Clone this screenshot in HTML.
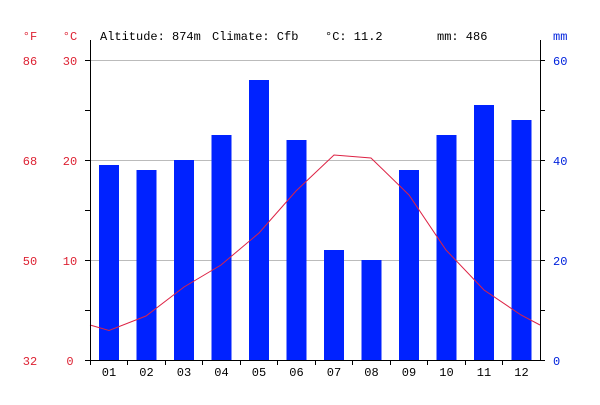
<!DOCTYPE html><html><head><style>body{margin:0;background:#fff}</style></head><body>
<svg width="600" height="400" xmlns="http://www.w3.org/2000/svg" font-family="Liberation Mono, DejaVu Sans Mono, monospace" font-size="12">
<g stroke="#bbb" stroke-width="1">
<line x1="90" y1="60.5" x2="540" y2="60.5"/><line x1="90" y1="160.5" x2="540" y2="160.5"/><line x1="90" y1="260.5" x2="540" y2="260.5"/>
</g>
<g fill="#0022ff">
<rect x="99" y="165" width="20" height="195"/>
<rect x="136.5" y="170" width="20" height="190"/>
<rect x="174" y="160" width="20" height="200"/>
<rect x="211.5" y="135" width="20" height="225"/>
<rect x="249" y="80" width="20" height="280"/>
<rect x="286.5" y="140" width="20" height="220"/>
<rect x="324" y="250" width="20" height="110"/>
<rect x="361.5" y="260" width="20" height="100"/>
<rect x="399" y="170" width="20" height="190"/>
<rect x="436.5" y="135" width="20" height="225"/>
<rect x="474" y="105" width="20" height="255"/>
<rect x="511.5" y="120" width="20" height="240"/>
</g>
<polyline fill="none" stroke="#dd2244" stroke-width="1" points="90,325 109,330.5 146,316 184,287 221,265 259,233 296,191 334,155 371,158 409,195 446,250 484,290 521,315 540,325"/>
<g stroke="#000" stroke-width="1">
<line x1="90.5" y1="40" x2="90.5" y2="360"/><line x1="540.5" y1="40" x2="540.5" y2="360"/>
<line x1="90" y1="360.5" x2="541" y2="360.5"/>
<line x1="85" y1="60.5" x2="90" y2="60.5"/><line x1="85" y1="110.5" x2="90" y2="110.5"/><line x1="85" y1="160.5" x2="90" y2="160.5"/><line x1="85" y1="210.5" x2="90" y2="210.5"/><line x1="85" y1="260.5" x2="90" y2="260.5"/><line x1="85" y1="310.5" x2="90" y2="310.5"/><line x1="85" y1="360.5" x2="90" y2="360.5"/>
<line x1="540" y1="60.5" x2="545" y2="60.5"/><line x1="540" y1="110.5" x2="545" y2="110.5"/><line x1="540" y1="160.5" x2="545" y2="160.5"/><line x1="540" y1="210.5" x2="545" y2="210.5"/><line x1="540" y1="260.5" x2="545" y2="260.5"/><line x1="540" y1="310.5" x2="545" y2="310.5"/><line x1="540" y1="360.5" x2="545" y2="360.5"/>
<line x1="90.5" y1="360" x2="90.5" y2="365"/><line x1="127.5" y1="360" x2="127.5" y2="365"/><line x1="165.5" y1="360" x2="165.5" y2="365"/><line x1="202.5" y1="360" x2="202.5" y2="365"/><line x1="240.5" y1="360" x2="240.5" y2="365"/><line x1="277.5" y1="360" x2="277.5" y2="365"/><line x1="315.5" y1="360" x2="315.5" y2="365"/><line x1="352.5" y1="360" x2="352.5" y2="365"/><line x1="390.5" y1="360" x2="390.5" y2="365"/><line x1="427.5" y1="360" x2="427.5" y2="365"/><line x1="465.5" y1="360" x2="465.5" y2="365"/><line x1="502.5" y1="360" x2="502.5" y2="365"/>
</g>
<g fill="#dd2233" text-anchor="middle">
<text x="30" y="40">°F</text><text x="70" y="40">°C</text>
<text x="30" y="65">86</text><text x="70" y="65">30</text>
<text x="30" y="165">68</text><text x="70" y="165">20</text>
<text x="30" y="265">50</text><text x="70" y="265">10</text>
<text x="30" y="365">32</text><text x="70" y="365">0</text>
</g>
<g fill="#0022dd" text-anchor="start">
<text x="553" y="40">mm</text><text x="553" y="65">60</text><text x="553" y="165">40</text><text x="553" y="265">20</text><text x="553" y="365">0</text>
</g>
<g fill="#000" text-anchor="middle">
<text x="109" y="376">01</text><text x="146.5" y="376">02</text><text x="184" y="376">03</text><text x="221.5" y="376">04</text><text x="259" y="376">05</text><text x="296.5" y="376">06</text><text x="334" y="376">07</text><text x="371.5" y="376">08</text><text x="409" y="376">09</text><text x="446.5" y="376">10</text><text x="484" y="376">11</text><text x="521.5" y="376">12</text>
</g>
<text x="100" y="40" fill="#000">Altitude: 874m</text>
<text x="212" y="40" fill="#000">Climate: Cfb</text>
<text x="325" y="40" fill="#000">°C: 11.2</text>
<text x="437" y="40" fill="#000">mm: 486</text>
</svg>
</body></html>
